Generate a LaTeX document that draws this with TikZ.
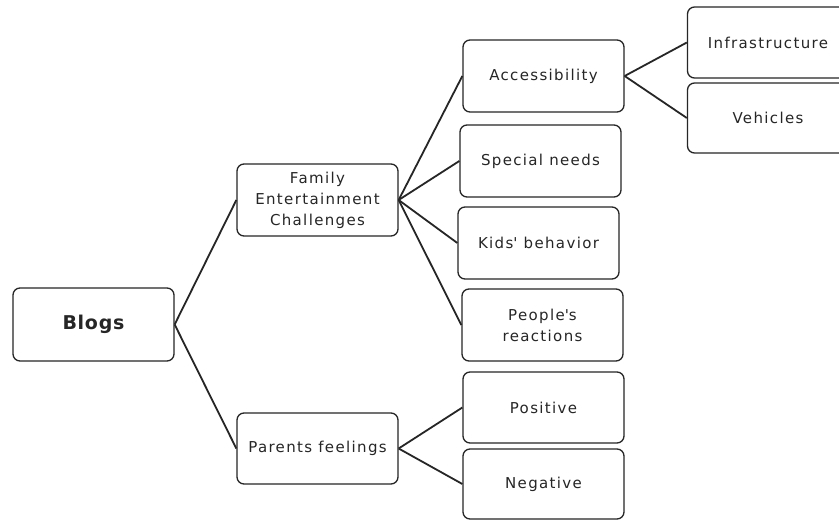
\documentclass[tikz,border=0pt]{standalone}
\usepackage{fontspec}
\newfontfamily\lbl[LetterSpace=9]{DejaVu Sans}
\newfontfamily\lblb[LetterSpace=4]{DejaVu Sans Bold}
\begin{document}
\begin{tikzpicture}[x=1pt,y=-1pt,
  box/.style={draw=black!85,line width=1.3pt,rounded corners=7pt,fill=white,
    minimum width=161pt,minimum height=71pt,align=center,inner sep=2pt,
    font=\lbl\fontsize{15}{21}\selectfont,text=black!85},
  conn/.style={draw=black!85,line width=1.8pt}]
\useasboundingbox (0,0) rectangle (839,520);
\fill[white] (0,0) rectangle (839,520);
\begin{scope}
\clip (0,0) rectangle (839,520);
\node[box,minimum height=73pt,font=\lblb\fontsize{19}{22}\selectfont] (blogs) at (93.5,324.5) {Blogs};
\node[box,minimum height=72pt] (fam) at (317.5,200) {Family\\Entertainment\\Challenges};
\node[box] (par) at (317.5,448.5) {Parents feelings};
\node[box,minimum height=72pt] (acc) at (543.5,76) {Accessibility};
\node[box,minimum height=72pt] (spn) at (540.5,161) {Special needs};
\node[box,minimum height=72pt] (kid) at (538.5,243) {Kids\textquotesingle\ behavior};
\node[box,minimum height=72pt] (peo) at (542.5,325) {People\textquotesingle s\\reactions};
\node[box] (pos) at (543.5,407.5) {Positive};
\node[box,minimum height=70pt] (neg) at (543.5,484) {Negative};
\node[box] (inf) at (768,42.5) {Infrastructure};
\node[box,minimum height=70pt] (veh) at (768,118) {Vehicles};
\draw[conn] (blogs.east) -- (fam.west);
\draw[conn] (blogs.east) -- (par.west);
\draw[conn] (fam.east) -- (acc.west);
\draw[conn] (fam.east) -- (spn.west);
\draw[conn] (fam.east) -- (kid.west);
\draw[conn] (fam.east) -- (peo.west);
\draw[conn] (acc.east) -- (inf.west);
\draw[conn] (acc.east) -- (veh.west);
\draw[conn] (par.east) -- (pos.west);
\draw[conn] (par.east) -- (neg.west);
\end{scope}
\end{tikzpicture}
\end{document}
